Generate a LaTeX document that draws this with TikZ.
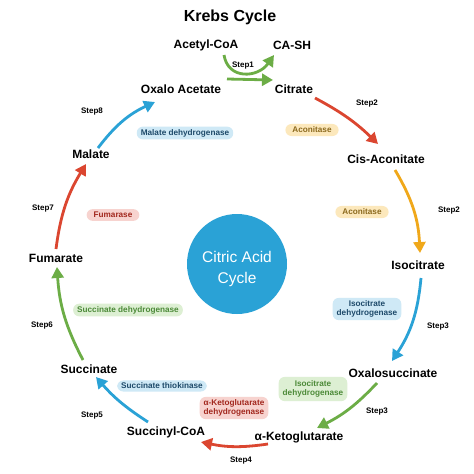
\documentclass[tikz,border=0pt]{standalone}
\usepackage{fontspec}
\setmainfont{Liberation Sans}
\usetikzlibrary{arrows.meta}
\definecolor{cgreen}{HTML}{6CAD46}
\definecolor{cred}{HTML}{DB4630}
\definecolor{corange}{HTML}{F0A81A}
\definecolor{cblue}{HTML}{2AA2D6}
\definecolor{pyellow}{HTML}{FCE8BC}
\definecolor{tyellow}{HTML}{8C6A1E}
\definecolor{pblue}{HTML}{CFE9F6}
\definecolor{tblue}{HTML}{1E4A6A}
\definecolor{pgreen}{HTML}{DDEFD3}
\definecolor{tgreen}{HTML}{4C8A38}
\definecolor{pred}{HTML}{F7D3CF}
\definecolor{tred}{HTML}{A2281E}
\begin{document}
\begin{tikzpicture}[x=1pt,y=-1pt,
  lbl/.style={font=\fontsize{12}{12}\selectfont\bfseries, text=black, inner sep=0pt},
  steplbl/.style={font=\fontsize{8}{8}\selectfont\bfseries, text=black, inner sep=0pt},
  pill/.style={rounded corners=6pt, inner xsep=4pt, inner ysep=2.5pt,
    font=\fontsize{8.2}{9.5}\selectfont\bfseries, align=center},
  pillY/.style={pill, fill=pyellow, text=tyellow, inner xsep=7pt, inner ysep=3pt},
  pillB/.style={pill, fill=pblue, text=tblue},
  pillG/.style={pill, fill=pgreen, text=tgreen},
  pillR/.style={pill, fill=pred, text=tred},
  arr/.style={line width=2.8pt, -{Triangle[length=11pt,width=12pt]}},
]
\useasboundingbox[fill=white] (0,0) rectangle (474,474);

% title
\node[font=\fontsize{16}{16}\selectfont\bfseries, inner sep=0pt] (title) at (230,17) {Krebs Cycle};

% metabolites
\node[lbl] (acoa) at (206,45) {Acetyl-CoA};
\node[lbl] (cash) at (292,45) {CA-SH};
\node[lbl] (cit) at (294,89) {Citrate};
\node[lbl] (oaa) at (181,89) {Oxalo Acetate};
\node[lbl] (cis) at (386,159) {Cis-Aconitate};
\node[lbl] (iso) at (418,265) {Isocitrate};
\node[lbl] (oxs) at (393,373) {Oxalosuccinate};
\node[lbl] (akg) at (299,437) {α-Ketoglutarate};
\node[lbl] (scoa) at (166,432) {Succinyl-CoA};
\node[lbl] (suc) at (89,369) {Succinate};
\node[lbl] (fum) at (56,258) {Fumarate};
\node[lbl] (mal) at (91,154) {Malate};

% center circle
\node[circle, fill=cblue, minimum size=100pt, inner sep=0pt] (cc) at (237,264) {};
\node[text=white, font=\fontsize{15.5}{21}\selectfont, align=center, inner sep=0pt] (cct) at (237,269) {Citric Acid\\Cycle};

% enzymes
\node[pillY] (e1) at (312,130) {Aconitase};
\node[pillY] (e2) at (362,212) {Aconitase};
\node[pillB] (e3) at (367,309) {Isocitrate\\dehydrogenase};
\node[pillG, inner ysep=3.5pt] (e4) at (313,389) {Isocitrate\\dehydrogenase};
\node[pillR] (e5) at (234,408) {α-Ketoglutarate\\dehydrogenase};
\node[pillB] (e6) at (162,386) {Succinate thiokinase};
\node[pillG] (e7) at (128,310) {Succinate dehydrogenase};
\node[pillR, inner xsep=7pt, inner ysep=3pt] (e8) at (113,215) {Fumarase};
\node[pillB] (e9) at (185,133) {Malate dehydrogenase};

% step labels
\node[steplbl] (s1) at (243,66) {Step1};
\node[steplbl] (s2a) at (367,104) {Step2};
\node[steplbl] (s2b) at (449,211) {Step2};
\node[steplbl] (s3a) at (438,327) {Step3};
\node[steplbl] (s3b) at (377,412) {Step3};
\node[steplbl] (s4) at (241,461) {Step4};
\node[steplbl] (s5) at (92,416) {Step5};
\node[steplbl] (s6) at (42,326) {Step6};
\node[steplbl] (s7) at (43,209) {Step7};
\node[steplbl] (s8) at (92,112) {Step8};

% arrow end points
\coordinate (a1s) at (224,55);  \coordinate (a1e) at (274,55);
\coordinate (a2s) at (227,79);  \coordinate (a2e) at (273,80);
\coordinate (a3s) at (315,98);  \coordinate (a3e) at (378,144);
\coordinate (a4s) at (395,170); \coordinate (a4e) at (420,253);
\coordinate (a5s) at (421,278); \coordinate (a5e) at (392,361);
\coordinate (a6s) at (377,383); \coordinate (a6e) at (317,428);
\coordinate (a7s) at (268,444); \coordinate (a7e) at (201,442);
\coordinate (a8s) at (148,422); \coordinate (a8e) at (96,377);
\coordinate (a9s) at (83,360);  \coordinate (a9e) at (57,267);
\coordinate (a10s) at (56,249); \coordinate (a10e) at (86,164);
\coordinate (a11s) at (98,148); \coordinate (a11e) at (155,102);

% arrows
\draw[arr, cgreen] (a1s) .. controls (228,80) and (258,78) .. (a1e);
\draw[arr, cgreen] (a2s) -- (a2e);
\draw[arr, cred] (a3s) to[bend left=8] (a3e);
\draw[arr, corange] (a4s) to[bend left=14] (a4e);
\draw[arr, cblue] (a5s) to[bend left=14] (a5e);
\draw[arr, cgreen] (a6s) to[bend left=10] (a6e);
\draw[arr, cred] (a7s) to[bend left=10] (a7e);
\draw[arr, cblue] (a8s) to[bend left=8] (a8e);
\draw[arr, cgreen] (a9s) to[bend left=12] (a9e);
\draw[arr, cred] (a10s) to[bend left=12] (a10e);
\draw[arr, cblue] (a11s) to[bend left=14] (a11e);
\end{tikzpicture}
\end{document}
